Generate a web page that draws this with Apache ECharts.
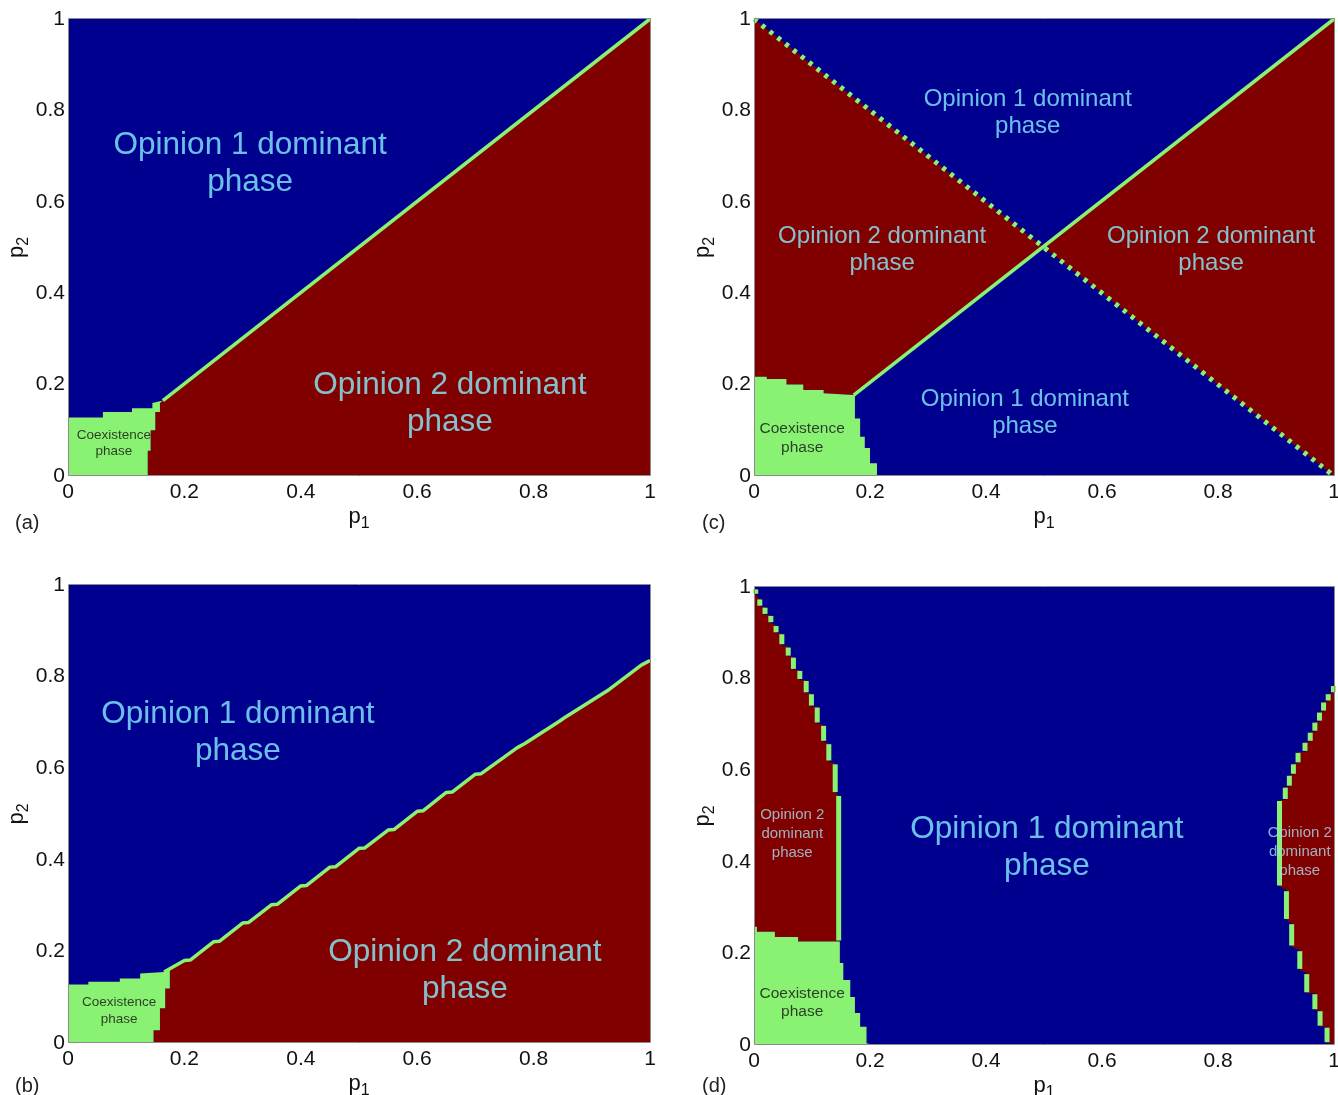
<!DOCTYPE html>
<html><head><meta charset="utf-8">
<script src="https://cdn.jsdelivr.net/npm/echarts@6/dist/echarts.min.js"></script>
<style>html,body{margin:0;padding:0;background:#fff}#c{width:1338px;height:1095px}</style>
</head><body><div id="c"></div>
<script>
// ---------- data (p1, p2 in [0,1]) ----------
const axisTicks = [0, 0.2, 0.4, 0.6, 0.8, 1];
const panelLetters = ['(a)', '(b)', '(c)', '(d)'];

// panel (a)
const aCoexTop = [[0,0.128],[0.06,0.128],[0.06,0.14],[0.11,0.14],[0.11,0.148],[0.145,0.148],[0.145,0.16],[0.163,0.165]];
const aCoexRight = [[0.163,0.165],[0.158,0.16],[0.158,0.14],[0.15,0.14],[0.15,0.1],[0.142,0.1],[0.142,0.055],[0.137,0.055],[0.137,0]];
const aBoundary = [[0.163,0.165],[1,1]];

// panel (b)
const bCoexTop = [[0,0.128],[0.035,0.128],[0.035,0.134],[0.089,0.134],[0.089,0.141],[0.124,0.141],[0.124,0.152],[0.165,0.155]];
const bCoexRight = [[0.175,0.16],[0.175,0.119],[0.167,0.119],[0.167,0.076],[0.158,0.076],[0.158,0.028],[0.147,0.028],[0.147,0]];
const bBoundary = [[0.165,0.155],[0.2,0.18],[0.21,0.181],[0.25,0.221],[0.26,0.222],[0.3,0.262],[0.31,0.263],[0.35,0.302],[0.36,0.303],[0.4,0.343],[0.41,0.344],[0.45,0.384],[0.46,0.385],[0.5,0.425],[0.51,0.426],[0.55,0.465],[0.56,0.466],[0.6,0.506],[0.61,0.507],[0.65,0.547],[0.66,0.548],[0.7,0.587],[0.71,0.588],[0.772,0.645],[0.785,0.654],[0.845,0.703],[0.855,0.712],[0.915,0.76],[0.93,0.772],[0.985,0.825],[1,0.835]];

// panel (c)
const cCoexTop = [[0,0.217],[0.022,0.217],[0.022,0.212],[0.056,0.212],[0.056,0.2],[0.085,0.2],[0.085,0.188],[0.12,0.188],[0.12,0.181],[0.172,0.177]];
const cCoexRight = [[0.174,0.177],[0.174,0.126],[0.183,0.126],[0.183,0.086],[0.191,0.086],[0.191,0.061],[0.2,0.061],[0.2,0.028],[0.212,0.028],[0.212,0]];
const cDiagonal = [[0.172,0.177],[1,1]];
const cAntiDiagonal = [[0,1],[1,0]];
const cCrossing = [0.5,0.5];

// panel (d)  beads: [p1, p2 top, p2 bottom]
const dLeftBeads = [[0.003,0.997,0.983],[0.010,0.975,0.957],[0.019,0.957,0.939],[0.029,0.939,0.921],[0.038,0.917,0.899],[0.048,0.899,0.873],[0.059,0.870,0.848],[0.068,0.848,0.819],[0.079,0.819,0.797],[0.090,0.797,0.768],[0.099,0.768,0.739],[0.109,0.739,0.702],[0.120,0.699,0.662],[0.129,0.659,0.619],[0.140,0.615,0.550],[0.146,0.546,0.226]];
const dLeftRedBottom = [[0.138,0.226],[0.076,0.226],[0.076,0.236],[0.036,0.236],[0.036,0.247],[0.005,0.247],[0.005,0.258],[0,0.258]];
const dCoexRight = [[0.148,0.226],[0.148,0.179],[0.154,0.179],[0.154,0.142],[0.166,0.142],[0.166,0.105],[0.174,0.105],[0.174,0.07],[0.183,0.07],[0.183,0.04],[0.194,0.04],[0.194,0.004],[0.206,0]];
const dRightBeads = [[0.999,0.786,0.768],[0.990,0.768,0.750],[0.982,0.750,0.728],[0.975,0.728,0.706],[0.967,0.706,0.684],[0.959,0.684,0.662],[0.950,0.662,0.640],[0.938,0.640,0.615],[0.930,0.615,0.590],[0.923,0.590,0.564],[0.916,0.564,0.535],[0.906,0.535,0.346],[0.918,0.338,0.273],[0.927,0.266,0.215],[0.941,0.207,0.164],[0.953,0.157,0.113],[0.967,0.113,0.076],[0.976,0.076,0.040],[0.988,0.040,0.004],[0.996,0.004,0]];

// ---------- styling ----------
const BLUE = '#00008F', RED = '#800000', GREEN = '#8AF272', CYAN = '#86F0FF';
const FONT = 'Liberation Sans, Arial, sans-serif';

const grids = [
  {left:68, top:19, width:582, height:457},   // a
  {left:68, top:585, width:582, height:458},  // b
  {left:754, top:19, width:580, height:457},  // c
  {left:754, top:587, width:580, height:458}  // d
];

const rev = a => a.slice().reverse();

const redPolys = [
  [...rev(aCoexRight), ...aBoundary.slice(1), [1,0]],
  [...rev(bCoexRight), ...bBoundary.slice(1), [1,0]]
];
const coexPolys = [
  [[0,0], ...aCoexTop, ...aCoexRight],
  [[0,0], ...bCoexTop, ...bCoexRight],
  [[0,0], ...cCoexTop, ...cCoexRight],
  [[0,0], ...rev(dLeftRedBottom), ...dCoexRight]
];
const cRedLeft = [cAntiDiagonal[0], cCrossing, ...rev(cCoexTop)];
const cRedRight = [cDiagonal[1], cCrossing, cAntiDiagonal[1]];
const dRedLeft = [[0,1], ...dLeftBeads.flatMap(b => [[b[0], b[1]], [b[0], b[2]]]), ...dLeftRedBottom];
const dRedRight = [[1, dRightBeads[0][1]], ...dRightBeads.flatMap(b => [[b[0], b[1]], [b[0], b[2]]]), [1,0]];

function polySeries(k, polys, color) {
  return {
    type:'custom', xAxisIndex:k, yAxisIndex:k, silent:true, z:2,
    data: polys.map((p,i) => [p[0][0], p[0][1], i]),
    encode:{x:0, y:1},
    renderItem:(params, api) => ({
      type:'polygon',
      shape:{points: polys[params.dataIndex].map(v => api.coord(v))},
      style:{fill:color}
    })
  };
}
function lineSeries(k, pts, width, dash) {
  return {
    type:'line', xAxisIndex:k, yAxisIndex:k, silent:true, z:4,
    data: pts, symbol:'none', animation:false,
    lineStyle:{color:GREEN, width:width, type: dash || 'solid', cap:'butt'}
  };
}
function beadSeries(k, beads) {
  return {
    type:'custom', xAxisIndex:k, yAxisIndex:k, silent:true, z:5,
    data: beads, encode:{x:0, y:1},
    renderItem:(params, api) => {
      const p0 = api.coord([api.value(0), api.value(1)]);
      const p1 = api.coord([api.value(0), api.value(2)]);
      return {type:'line', shape:{x1:p0[0], y1:p0[1]+1, x2:p1[0], y2:p1[1]-1},
        style:{stroke:GREEN, lineWidth:5, lineCap:'butt'}};
    }
  };
}
function frameSeries(k) {
  return {
    type:'custom', xAxisIndex:k, yAxisIndex:k, silent:true, z:10,
    data:[[0,0]], encode:{x:0,y:1},
    renderItem:(params) => {
      const cs = params.coordSys;
      return {type:'rect', shape:{x:cs.x+0.5, y:cs.y-0.5, width:cs.width, height:cs.height},
        style:{fill:null, stroke:'#8c8c8c', lineWidth:1}};
    }
  };
}
function textSeries(k, items) {
  return {
    type:'scatter', xAxisIndex:k, yAxisIndex:k, silent:true, z:8,
    symbolSize:0,
    data: items.map(t => ({
      value:t.at,
      label:{show:true, position:'inside', formatter:t.text, color:t.color,
        fontSize:t.size, lineHeight:t.lh, fontFamily:FONT, align:'center', verticalAlign:'middle'}
    }))
  };
}

const big = (text, at) => ({text, at, size:31.5, lh:37, color:CYAN});
const mid = (text, at) => ({text, at, size:24, lh:27, color:CYAN});
const small = (text, at) => ({text, at, size:15, lh:19, color:'#A8DCEC'});
const coex = (text, at, size) => ({text, at, size, lh:size+3, color:'#111'});

const labels = [
  [big('Opinion 1 dominant\nphase',[0.313,0.684]), big('Opinion 2 dominant\nphase',[0.656,0.158]), coex('Coexistence\nphase',[0.079,0.072],13.5)],
  [big('Opinion 1 dominant\nphase',[0.292,0.677]), big('Opinion 2 dominant\nphase',[0.682,0.157]), coex('Coexistence\nphase',[0.088,0.07],13.5)],
  [mid('Opinion 1 dominant\nphase',[0.472,0.794]), mid('Opinion 2 dominant\nphase',[0.221,0.495]), mid('Opinion 2 dominant\nphase',[0.788,0.495]), mid('Opinion 1 dominant\nphase',[0.467,0.138]), coex('Coexistence\nphase',[0.083,0.083],15.5)],
  [big('Opinion 1 dominant\nphase',[0.505,0.43]), small('Opinion 2\ndominant\nphase',[0.066,0.461]), small('Opinion 2\ndominant\nphase',[0.941,0.421]), coex('Coexistence\nphase',[0.083,0.092],15.5)]
];

const nameRich = {
  p:{fontSize:22, fontFamily:FONT, color:'#111'},
  s:{fontSize:16, fontFamily:FONT, color:'#111', padding:[14,0,0,0]}
};

const xAxes = grids.map((g,k) => ({
  gridIndex:k, type:'value', min:axisTicks[0], max:axisTicks[axisTicks.length-1], interval:0.2,
  axisLine:{show:false}, axisTick:{show:false}, splitLine:{show:false},
  axisLabel:{fontSize:21, fontFamily:FONT, color:'#111', margin:6},
  name:'{p|p}{s|1}', nameLocation:'middle', nameGap:26, nameTextStyle:{rich:nameRich}
}));
const yAxes = grids.map((g,k) => ({
  gridIndex:k, type:'value', min:axisTicks[0], max:axisTicks[axisTicks.length-1], interval:0.2,
  axisLine:{show:false}, axisTick:{show:false}, splitLine:{show:false},
  axisLabel:{fontSize:21, fontFamily:FONT, color:'#111', margin:3},
  name:'{p|p}{s|2}', nameLocation:'middle', nameGap:36, nameTextStyle:{rich:nameRich}
}));

const series = [];
series.push(polySeries(0, [redPolys[0]], RED), polySeries(0, [coexPolys[0]], GREEN), lineSeries(0, aBoundary, 3.5));
series.push(polySeries(1, [redPolys[1]], RED), polySeries(1, [coexPolys[1]], GREEN), lineSeries(1, bBoundary, 3.5));
series.push(polySeries(2, [cRedLeft, cRedRight], RED), polySeries(2, [coexPolys[2]], GREEN),
  lineSeries(2, cDiagonal, 3.5), lineSeries(2, cAntiDiagonal, 5, [4,6]));
series.push(polySeries(3, [dRedLeft, dRedRight], RED), polySeries(3, [coexPolys[3]], GREEN),
  beadSeries(3, dLeftBeads), beadSeries(3, dRightBeads));
for (let k=0;k<4;k++) { series.push(textSeries(k, labels[k]), frameSeries(k)); }

const letterPos = [[10,508],[10,1071],[697,508],[697,1071]];
const option = {
  animation:false,
  backgroundColor:'#fff',
  grid: grids.map(g => Object.assign({show:true, backgroundColor:BLUE, borderWidth:0, outerBoundsMode:'none'}, g)),
  xAxis:xAxes, yAxis:yAxes,
  title: panelLetters.map((t,i) => ({text:t, left:letterPos[i][0], top:letterPos[i][1],
    textStyle:{fontSize:20, fontWeight:'normal', fontFamily:FONT, color:'#222'}})),
  series
};
const chart = echarts.init(document.getElementById('c'), null, {renderer:'canvas'});
chart.setOption(option);
</script></body></html>
